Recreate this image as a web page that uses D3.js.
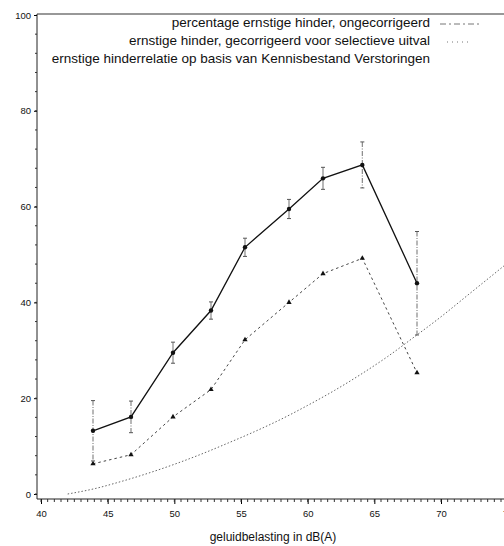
<!DOCTYPE html>
<html>
<head>
<meta charset="utf-8">
<script src="https://d3js.org/d3.v7.min.js"></script>
<style>
    body { margin: 0; background: #fff; }
    text { font-family: "Liberation Sans", Arial, sans-serif; fill: #111; }
</style>
</head>
<body>
<script>
//geluidbelasting (dB(A)) of each measured class
var classDb = [43.9, 46.75, 49.9, 52.75, 55.3, 58.6, 61.15, 64.1, 68.2];
//percentage ernstige hinder, ongecorrigeerd
var uncorrected = [13.2, 16.1, 29.5, 38.3, 51.5, 59.5, 65.9, 68.7, 44.0];
//half width of the error bars
var errorHalf = [6.3, 3.3, 2.2, 1.8, 1.9, 2.0, 2.3, 4.8, 10.8];
//ernstige hinder, gecorrigeerd voor selectieve uitval
var corrected = [6.3, 8.2, 16.1, 21.8, 32.2, 40.0, 46.0, 49.2, 25.3];
//relatie Kennisbestand Verstoringen
var relationDb = [42, 44, 46, 48, 50, 52, 54, 56, 58, 60, 62, 64, 66, 68, 70, 72, 74, 76];
var relationPct = [0, 1.1, 2.6, 4.3, 6.2, 8.3, 10.6, 13.0, 15.6, 18.5, 21.6, 25.0, 28.7, 32.8, 37.0, 41.5, 46.0, 50.5];
//tick labels
var xTicks = [40, 45, 50, 55, 60, 65, 70, 75];
var yTicks = [0, 20, 40, 60, 80, 100];
var legendLabels = [
    "percentage ernstige hinder, ongecorrigeerd",
    "ernstige hinder, gecorrigeerd voor selectieve uitval",
    "ernstige hinderrelatie op basis van Kennisbestand Verstoringen"
];

window.onload = setChart();

function setChart(){

    var width = 504,
        height = 546;

    var svg = d3.select("body")
        .append("svg")
        .attr("width", width)
        .attr("height", height);

    //scales
    var x = d3.scaleLinear()
        .domain([40, 70])
        .range([41, 441]);

    var y = d3.scaleLinear()
        .domain([0, 100])
        .range([494, 15]);

    var left = 37,
        axisY = 499;

    //frame: left axis and top line
    svg.append("line")
        .attr("x1", left).attr("x2", left)
        .attr("y1", 14).attr("y2", axisY)
        .attr("stroke", "#222").attr("stroke-width", 1);

    svg.append("line")
        .attr("x1", left).attr("x2", width)
        .attr("y1", 14).attr("y2", 14)
        .attr("stroke", "#333").attr("stroke-width", 1.2);

    //x axis
    svg.append("line")
        .attr("x1", left).attr("x2", width)
        .attr("y1", axisY).attr("y2", axisY)
        .attr("stroke", "#222").attr("stroke-width", 1);

    var xAxis = d3.axisBottom(x)
        .tickValues(xTicks)
        .tickSize(5)
        .tickFormat(d3.format("d"));

    var gx = svg.append("g")
        .attr("transform", "translate(0," + axisY + ")")
        .call(xAxis);
    gx.select(".domain").remove();
    gx.selectAll("text")
        .attr("dy", "1.1em")
        .style("font-size", "9.5px");

    //minor x ticks every 0.5 dB
    svg.selectAll(".xminor")
        .data(d3.range(40, 76, 0.5))
        .enter()
        .append("line")
        .attr("class", "xminor")
        .attr("x1", function(d){ return x(d); })
        .attr("x2", function(d){ return x(d); })
        .attr("y1", axisY)
        .attr("y2", axisY + 3)
        .attr("stroke", "#333");

    //y axis
    var yAxis = d3.axisLeft(y)
        .tickValues(yTicks)
        .tickSize(3)
        .tickFormat(d3.format("d"));

    var gy = svg.append("g")
        .attr("transform", "translate(" + left + ",0)")
        .call(yAxis);
    gy.select(".domain").remove();
    gy.selectAll("text")
        .attr("x", -6)
        .style("font-size", "9.5px");

    //minor y ticks
    svg.selectAll(".yminor")
        .data(d3.range(0, 100, 4))
        .enter()
        .append("line")
        .attr("class", "yminor")
        .attr("x1", left - 2)
        .attr("x2", left)
        .attr("y1", function(d){ return y(d); })
        .attr("y2", function(d){ return y(d); })
        .attr("stroke", "#333");

    //x axis title
    svg.append("text")
        .attr("x", 273)
        .attr("y", 541)
        .attr("text-anchor", "middle")
        .style("font-size", "12px")
        .text("geluidbelasting in dB(A)");

    //clip to the plot area
    svg.append("clipPath")
        .attr("id", "plotClip")
        .append("rect")
        .attr("x", left).attr("y", 0)
        .attr("width", width - left).attr("height", axisY);

    var plot = svg.append("g").attr("clip-path", "url(#plotClip)");

    //relation curve
    var relation = relationDb.map(function(d, i){ return [d, relationPct[i]]; });
    var line = d3.line()
        .x(function(d){ return x(d[0]); })
        .y(function(d){ return y(d[1]); })
        .curve(d3.curveMonotoneX);

    plot.append("path")
        .datum(relation)
        .attr("d", line)
        .attr("fill", "none")
        .attr("stroke", "#666")
        .attr("stroke-width", 1)
        .attr("stroke-dasharray", "1.5,2");

    //error bars
    classDb.forEach(function(d, i){
        var top = uncorrected[i] + errorHalf[i],
            bot = uncorrected[i] - errorHalf[i];
        plot.append("line")
            .attr("x1", x(d)).attr("x2", x(d))
            .attr("y1", y(top)).attr("y2", y(bot))
            .attr("stroke", "#888")
            .attr("stroke-width", 1.2)
            .attr("stroke-dasharray", i < 2 || i > 6 ? "5,1.5,1,1.5" : null);
        [top, bot].forEach(function(v){
            plot.append("line")
                .attr("x1", x(d) - 2).attr("x2", x(d) + 2)
                .attr("y1", y(v)).attr("y2", y(v))
                .attr("stroke", "#555");
        });
    });

    //corrected series
    var corrLine = d3.line()
        .x(function(d, i){ return x(classDb[i]); })
        .y(function(d){ return y(d); });

    plot.append("path")
        .datum(corrected)
        .attr("d", corrLine)
        .attr("fill", "none")
        .attr("stroke", "#444")
        .attr("stroke-width", 1)
        .attr("stroke-dasharray", "2.5,3");

    plot.selectAll(".corrMark")
        .data(corrected)
        .enter()
        .append("path")
        .attr("class", "corrMark")
        .attr("d", d3.symbol().type(d3.symbolTriangle).size(12))
        .attr("transform", function(d, i){
            return "translate(" + x(classDb[i]) + "," + y(d) + ")";
        })
        .attr("fill", "#111");

    //uncorrected series
    plot.append("path")
        .datum(uncorrected)
        .attr("d", corrLine)
        .attr("fill", "none")
        .attr("stroke", "#111")
        .attr("stroke-width", 1.3);

    plot.selectAll(".uncMark")
        .data(uncorrected)
        .enter()
        .append("circle")
        .attr("class", "uncMark")
        .attr("cx", function(d, i){ return x(classDb[i]); })
        .attr("cy", function(d){ return y(d); })
        .attr("r", 2.2)
        .attr("fill", "#111");

    //legend
    var legendY = [22, 40, 58];
    var legendDash = ["6,3,2,3", "1,4", null];
    legendLabels.forEach(function(label, i){
        svg.append("text")
            .attr("x", 430)
            .attr("y", legendY[i])
            .attr("dy", "0.35em")
            .attr("text-anchor", "end")
            .style("font-size", "13.5px")
            .text(label);
        if (legendDash[i]){
            svg.append("line")
                .attr("x1", i == 0 ? 440 : 447)
                .attr("x2", i == 0 ? 482 : 470)
                .attr("y1", legendY[i] + 2)
                .attr("y2", legendY[i] + 2)
                .attr("stroke", "#777")
                .attr("stroke-dasharray", legendDash[i]);
        }
    });
};
</script>
</body>
</html>
